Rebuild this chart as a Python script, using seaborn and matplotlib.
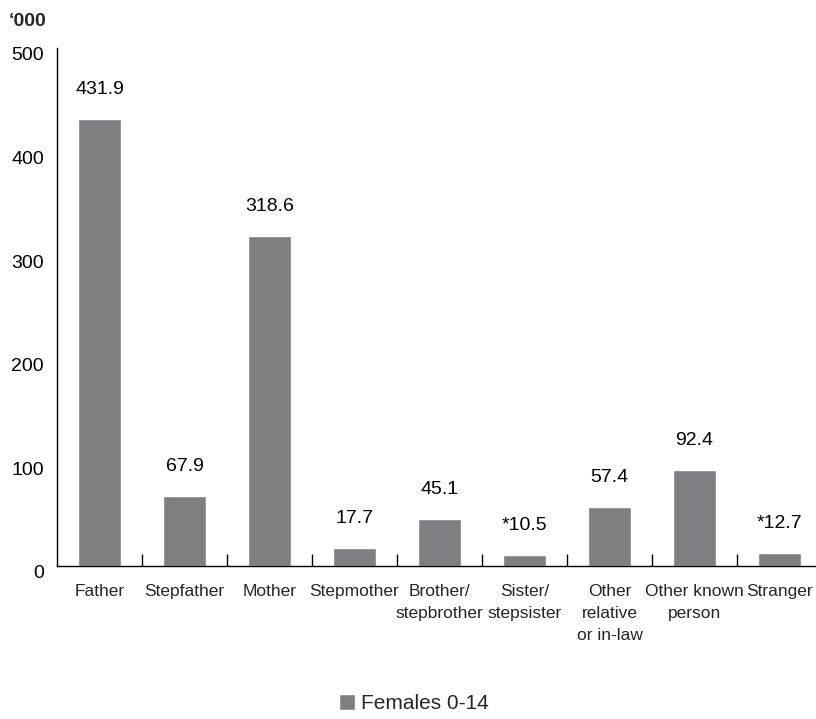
import matplotlib
matplotlib.use('Agg')
import numpy as np
import pandas as pd
import seaborn as sns
import matplotlib.pyplot as plt
from matplotlib.transforms import ScaledTranslation

categories = ["Father", "Stepfather", "Mother", "Stepmother", "Brother/\nstepbrother",
              "Sister/\nstepsister", "Other\nrelative\nor in-law", "Other known\nperson", "Stranger"]
values = [431.9, 67.9, 318.6, 17.7, 45.1, 10.5, 57.4, 92.4, 12.7]
value_labels = ["431.9", "67.9", "318.6", "17.7", "45.1", "*10.5", "57.4", "92.4", "*12.7"]
series_name = "Females 0-14"
yticks = [0, 100, 200, 300, 400, 500]
unit_label = "\u2018000"

BAR = "#7f7f83"

sns.set_theme(style="white")
plt.rcParams['font.family'] = ['Liberation Sans', 'DejaVu Sans']

W, H = 816, 719
fig = plt.figure(figsize=(W / 100, H / 100), dpi=100)
left_px, zero_px, top_px, cat_px = 57, 566, 48, 85
ax = fig.add_axes([left_px / W, 1 - zero_px / H, (W - left_px) / W, (zero_px - top_px) / H])

df = pd.DataFrame({"rel": categories, "val": values})
sns.barplot(data=df, x="rel", y="val", color=BAR, width=0.5, saturation=1,
            label=series_name, ax=ax)

ax.set_xlim(-0.5, -0.5 + (W - left_px) / cat_px)
ax.set_ylim(0, 500)
ax.set_yticks(yticks)
ax.set_xlabel("")
ax.set_ylabel("")

ax.set_xticks(range(len(categories)))
ax.set_xticklabels(categories, linespacing=1.6)
ax.tick_params(axis='y', direction='in', length=13.7, width=1, pad=9.5,
               labelsize=14, colors='black')
ax.tick_params(axis='x', which='major', length=0, pad=13, labelsize=12.5)
ax.set_xticks(np.arange(0.5, 8.5, 1), minor=True)
ax.tick_params(axis='x', which='minor', direction='in', length=9, width=1,
               color='black', bottom=True)
shift = ScaledTranslation(0, -6 / 100, fig.dpi_scale_trans)
for t in ax.get_yticklabels():
    t.set_transform(t.get_transform() + shift)

for s in ['top', 'right']:
    ax.spines[s].set_visible(False)
for s in ['left', 'bottom']:
    ax.spines[s].set_color('black')
    ax.spines[s].set_linewidth(1)

for i, (v, lab) in enumerate(zip(values, value_labels)):
    ax.annotate(lab, xy=(i, v), xytext=(0, 15), textcoords='offset points',
                ha='center', va='bottom', fontsize=14, color='black')

fig.text(9 / W, 1 - 26 / H, unit_label, fontsize=14, fontweight='bold',
         ha='left', va='baseline')

if ax.legend_:
    ax.legend_.remove()
h, l = ax.get_legend_handles_labels()
fig.legend(h[:1], l[:1], loc='center', bbox_to_anchor=(0.507, 0.021), frameon=False,
           fontsize=15, handlelength=0.77, handleheight=0.77, handletextpad=0.29,
           borderpad=0, borderaxespad=0)

fig.savefig("out.png", dpi=100)
